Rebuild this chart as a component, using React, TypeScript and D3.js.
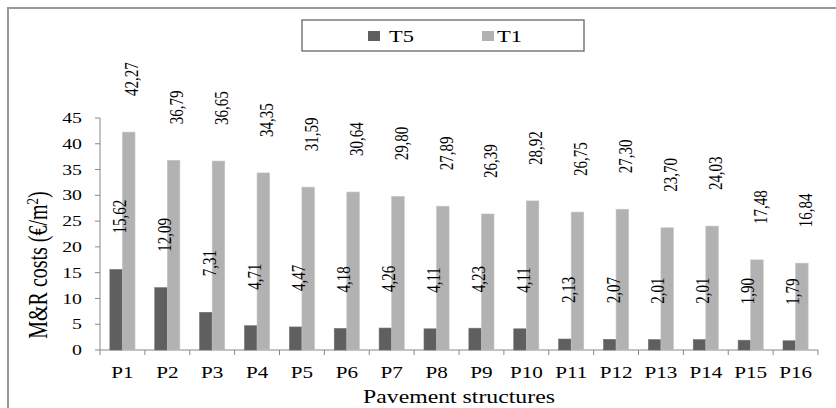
import React from "react";
import * as d3 from "d3";

const categories = ["P1","P2","P3","P4","P5","P6","P7","P8","P9","P10","P11","P12","P13","P14","P15","P16"];
const seriesNames = ["T5", "T1"];
const t5Values = [15.62, 12.09, 7.31, 4.71, 4.47, 4.18, 4.26, 4.11, 4.23, 4.11, 2.13, 2.07, 2.01, 2.01, 1.90, 1.79];
const t1Values = [42.27, 36.79, 36.65, 34.35, 31.59, 30.64, 29.80, 27.89, 26.39, 28.92, 26.75, 27.30, 23.70, 24.03, 17.48, 16.84];
const yTicks = [0, 5, 10, 15, 20, 25, 30, 35, 40, 45];
const colors = ["#5f5f5f", "#b2b2b2"];

const W = 836, H = 408;
const left = 100, right = 818, top = 118, bottom = 350;
const SX = 1.32;
const FONT = "'Liberation Serif', 'DejaVu Serif', serif";

const fmt = (v: number) => v.toFixed(2).replace(".", ",");

function SText({ x, y, size, anchor = "middle", rotate = 0, baseline = "auto", children }: any) {
  return (
    <g transform={`translate(${x},${y}) scale(${SX},1) rotate(${rotate})`}>
      <text x={0} y={0} fontSize={size} textAnchor={anchor} dominantBaseline={baseline} fontFamily={FONT} fill="#000">
        {children}
      </text>
    </g>
  );
}

export default function App() {
  const x = d3.scaleBand<string>().domain(categories).range([left, right]).paddingInner(0.44).paddingOuter(0.22);
  const xs = d3.scaleBand<string>().domain(seriesNames).range([0, x.bandwidth()]);
  const y = d3.scaleLinear().domain([0, 45]).range([bottom, top]);
  const step = x.step();
  const series = [t5Values, t1Values];

  return (
    <svg width={W} height={H} style={{ position: "absolute", left: 0, top: 0, background: "#fff" }}>
      <rect x={8} y={8} width={W + 20} height={H + 20} fill="#fff" stroke="#999" strokeWidth={2} />
      {/* legend */}
      <rect x={302} y={20} width={282} height={31} fill="#fff" stroke="#666" strokeWidth={1.3} />
      <rect x={368} y={31} width={12} height={10} fill={colors[0]} />
      <SText x={389} y={42} size={17} anchor="start">T5</SText>
      <rect x={482} y={31} width={12} height={10} fill={colors[1]} />
      <SText x={497} y={42} size={17} anchor="start">T1</SText>

      {/* y axis */}
      <line x1={left} x2={left} y1={y(45)} y2={bottom} stroke="#888" />
      {yTicks.map((t) => (
        <g key={t}>
          <line x1={left - 5} x2={left} y1={y(t)} y2={y(t)} stroke="#888" />
          <SText x={82} y={y(t)} size={15} anchor="end" baseline="central">{String(t)}</SText>
        </g>
      ))}
      {/* x axis */}
      <line x1={left} x2={right} y1={bottom} y2={bottom} stroke="#888" />
      {d3.range(categories.length + 1).map((i) => (
        <line key={i} x1={left + i * step} x2={left + i * step} y1={bottom} y2={bottom + 5} stroke="#888" />
      ))}

      {/* bars */}
      {series.map((vals, si) =>
        vals.map((v, i) => {
          const bx = (x(categories[i]) as number) + (xs(seriesNames[si]) as number);
          const bw = xs.bandwidth();
          return (
            <rect key={`${si}-${i}`} x={bx} y={y(v)} width={bw} height={bottom - y(v)} fill={colors[si]}
              stroke={si === 1 ? "#c4c4c4" : "#707070"} strokeWidth={0.6} />
          );
        })
      )}
      {/* labels */}
      {series.map((vals, si) =>
        vals.map((v, i) => {
          const cx = (x(categories[i]) as number) + (xs(seriesNames[si]) as number) + xs.bandwidth() / 2 + 3;
          return (
            <SText key={`l${si}-${i}`} x={cx} y={y(v) - 36} size={15} anchor="start" rotate={-90} baseline="central">
              {fmt(v)}
            </SText>
          );
        })
      )}

      {/* categories */}
      {categories.map((c) => (
        <SText key={c} x={(x(c) as number) + x.bandwidth() / 2} y={378} size={16}>{c}</SText>
      ))}

      <SText x={459} y={403} size={18}>Pavement structures</SText>
      <g transform={`translate(47,265) scale(${SX},1) rotate(-90)`}>
        <text x={0} y={0} fontSize={20} textAnchor="middle" fontFamily={FONT} fill="#000">
          M&amp;R costs (€/m<tspan fontSize={13} dy={-7}>2</tspan><tspan dy={7}>)</tspan>
        </text>
      </g>
    </svg>
  );
}
